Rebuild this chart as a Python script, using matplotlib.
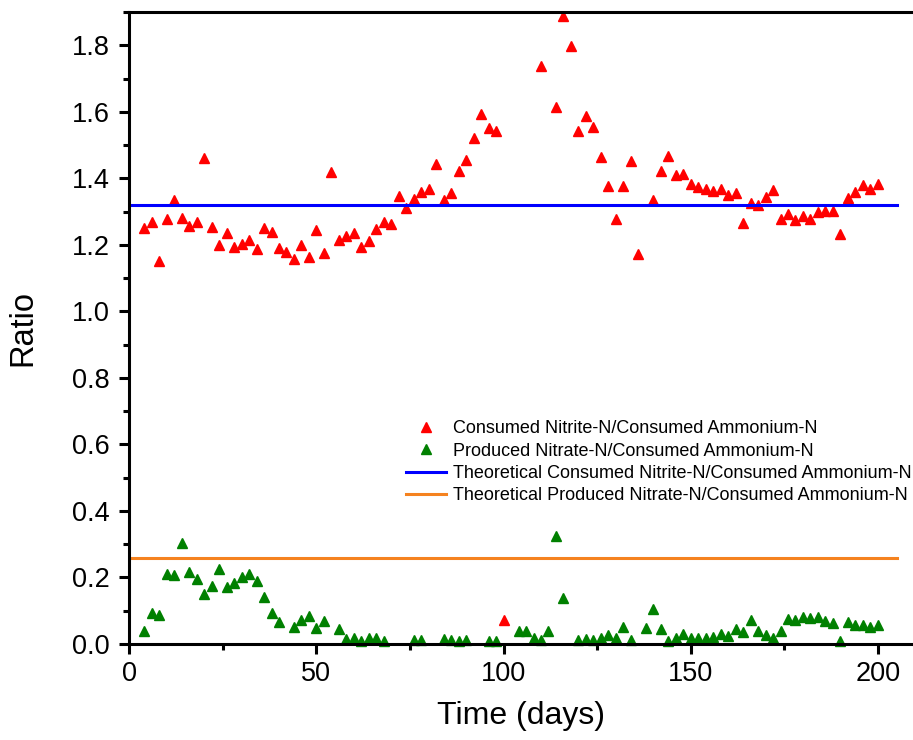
import matplotlib
matplotlib.use("Agg")
import matplotlib.pyplot as plt
from matplotlib.ticker import MultipleLocator

plt.rcParams['font.family'] = ['Liberation Sans', 'DejaVu Sans']

# consumed nitrite / consumed ammonium
nitrite_days = [4, 6, 8, 10, 12, 14, 16, 18, 20, 22, 24, 26, 28, 30, 32, 34, 36, 38, 40, 42,
                44, 46, 48, 50, 52, 54, 56, 58, 60, 62, 64, 66, 68, 70, 72, 74, 76, 78, 80, 82,
                84, 86, 88, 90, 92, 94, 96, 98, 100, 110, 114, 116, 118, 120, 122, 124, 126, 128,
                130, 132, 134, 136, 140, 142, 144, 146, 148, 150, 152, 154, 156, 158, 160, 162,
                164, 166, 168, 170, 172, 174, 176, 178, 180, 182, 184, 186, 188, 190, 192, 194,
                196, 198, 200]
nitrite_ratio = [1.252, 1.270, 1.151, 1.277, 1.334, 1.282, 1.256, 1.269, 1.460, 1.254, 1.201,
                 1.235, 1.194, 1.202, 1.214, 1.188, 1.251, 1.239, 1.192, 1.178, 1.158, 1.199,
                 1.163, 1.245, 1.175, 1.418, 1.214, 1.227, 1.235, 1.193, 1.211, 1.248, 1.270,
                 1.262, 1.347, 1.312, 1.338, 1.358, 1.369, 1.443, 1.334, 1.357, 1.423, 1.455,
                 1.521, 1.593, 1.551, 1.541, 0.072, 1.738, 1.613, 1.887, 1.799, 1.541, 1.586,
                 1.553, 1.463, 1.376, 1.279, 1.376, 1.451, 1.171, 1.334, 1.422, 1.467, 1.410,
                 1.414, 1.382, 1.374, 1.369, 1.361, 1.367, 1.349, 1.355, 1.267, 1.325, 1.321,
                 1.345, 1.364, 1.277, 1.294, 1.275, 1.288, 1.277, 1.299, 1.301, 1.301, 1.232,
                 1.342, 1.360, 1.380, 1.367, 1.382]

# produced nitrate / consumed ammonium
nitrate_days = [4, 6, 8, 10, 12, 14, 16, 18, 20, 22, 24, 26, 28, 30, 32, 34, 36, 38, 40, 44,
                46, 48, 50, 52, 56, 58, 60, 62, 64, 66, 68, 76, 78, 84, 86, 88, 90, 96, 98, 104,
                106, 108, 110, 112, 114, 116, 120, 122, 124, 126, 128, 130, 132, 134, 138, 140,
                142, 144, 146, 148, 150, 152, 154, 156, 158, 160, 162, 164, 166, 168, 170, 172,
                174, 176, 178, 180, 182, 184, 186, 188, 190, 192, 194, 196, 198, 200]
nitrate_ratio = [0.038, 0.094, 0.086, 0.211, 0.206, 0.304, 0.215, 0.194, 0.149, 0.174, 0.225,
                 0.171, 0.182, 0.201, 0.209, 0.189, 0.141, 0.093, 0.065, 0.050, 0.072, 0.084,
                 0.047, 0.070, 0.044, 0.014, 0.019, 0.010, 0.019, 0.019, 0.008, 0.011, 0.011,
                 0.014, 0.011, 0.008, 0.011, 0.008, 0.008, 0.040, 0.038, 0.017, 0.011, 0.040,
                 0.324, 0.137, 0.011, 0.016, 0.011, 0.017, 0.026, 0.019, 0.052, 0.011, 0.047,
                 0.105, 0.044, 0.010, 0.017, 0.029, 0.017, 0.017, 0.017, 0.020, 0.031, 0.023,
                 0.046, 0.035, 0.071, 0.040, 0.026, 0.017, 0.040, 0.074, 0.071, 0.080, 0.077,
                 0.080, 0.070, 0.062, 0.010, 0.065, 0.056, 0.058, 0.050, 0.056]

theory_span = [0, 205]
theory_nitrite = 1.32
theory_nitrate = 0.26

fig = plt.figure(figsize=(9.13, 7.40), dpi=100)
ax = fig.add_axes([129.3 / 913, 96 / 740, (913 - 129.3) / 913, 632 / 740])

ax.plot(nitrite_days, nitrite_ratio, '^', color='#ff0000', markersize=7, clip_on=False,
        label='Consumed Nitrite-N/Consumed Ammonium-N')
ax.plot(nitrate_days, nitrate_ratio, '^', color='#008000', markersize=7, clip_on=False,
        label='Produced Nitrate-N/Consumed Ammonium-N')
ax.plot(theory_span, [theory_nitrite] * 2, color='#0000ff', lw=2.2,
        label='Theoretical Consumed Nitrite-N/Consumed Ammonium-N')
ax.plot(theory_span, [theory_nitrate] * 2, color='#f5821f', lw=2.2,
        label='Theoretical Produced Nitrate-N/Consumed Ammonium-N')

ax.set_xlim(0, 209.4)
ax.set_ylim(0, 1.9)
ax.xaxis.set_major_locator(MultipleLocator(50))
ax.xaxis.set_minor_locator(MultipleLocator(25))
ax.yaxis.set_major_locator(MultipleLocator(0.2))
ax.yaxis.set_minor_locator(MultipleLocator(0.1))
ax.yaxis.set_major_formatter(plt.FuncFormatter(lambda v, p: f"{v:.1f}"))

ax.spines['right'].set_visible(False)
for s in ['left', 'bottom', 'top']:
    ax.spines[s].set_linewidth(2.2)
ax.tick_params(which='major', direction='out', length=7, width=2.2, labelsize=19.5)
ax.tick_params(axis='x', which='major', pad=5)
ax.tick_params(axis='y', which='major', pad=7)
ax.tick_params(which='minor', direction='out', length=4, width=2.2)

ax.set_xlabel('Time (days)', fontsize=23, labelpad=10)
ax.set_ylabel('Ratio', fontsize=23.5, labelpad=24)

fig.legend(loc='upper left', bbox_to_anchor=(399 / 913, (740 - 413) / 740),
           frameon=False, fontsize=13, handlelength=2.2, handletextpad=0.4,
           labelspacing=0.3, borderaxespad=0)

fig.savefig('out.png', dpi=100)
